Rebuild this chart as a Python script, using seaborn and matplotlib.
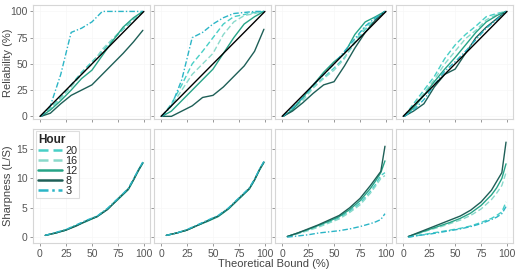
import matplotlib
matplotlib.use('Agg')
from matplotlib import pyplot as plt
import seaborn as sns
import pandas as pd

hours = ['20', '16', '12', '8', '3']
hour_colors = {'20': '#48cfc6', '16': '#8ad9cb', '12': '#26a487', '8': '#1e5f57', '3': '#2bb5c6'}
hour_dashes = {'20': (4, 2), '16': (4, 2), '12': '', '8': '', '3': (4, 1.5, 1, 1.5)}

# theoretical bound (x) grids
x_rel = [1, 10, 20, 30, 40, 50, 60, 70, 80, 90, 99]
x_sharp = [5, 15, 25, 35, 45, 55, 65, 75, 85, 90, 95, 99]
perfect = [0, 100]

# reliability (%) per panel, per hour
rel_1 = {
    '20': [0, 8, 18, 30, 42, 52, 62, 73, 83, 92, 100],
    '16': [0, 7, 17, 28, 40, 50, 64, 74, 84, 93, 100],
    '12': [0, 6, 15, 25, 36, 44, 58, 72, 85, 94, 100],
    '8': [0, 3, 12, 20, 25, 30, 40, 50, 60, 71, 82],
    '3': [0, 10, 40, 80, 84, 90, 100, 100, 100, 100, 100],
}
rel_2 = {
    '20': [0, 12, 30, 50, 62, 75, 88, 95, 97, 99, 100],
    '16': [0, 10, 25, 40, 50, 60, 78, 90, 96, 98, 100],
    '12': [0, 5, 15, 25, 35, 45, 60, 75, 88, 95, 100],
    '8': [0, 0, 5, 10, 18, 20, 28, 38, 48, 62, 83],
    '3': [0, 10, 35, 75, 80, 88, 94, 98, 99, 100, 100],
}
rel_3 = {
    '20': [0, 8, 17, 28, 37, 46, 56, 70, 83, 92, 100],
    '16': [0, 7, 15, 27, 36, 44, 55, 72, 85, 93, 100],
    '12': [0, 6, 18, 30, 42, 52, 60, 78, 90, 95, 100],
    '8': [0, 5, 13, 22, 30, 33, 48, 65, 80, 92, 100],
    '3': [0, 8, 18, 30, 40, 50, 62, 74, 86, 94, 100],
}
rel_4 = {
    '20': [0, 12, 25, 38, 55, 68, 78, 86, 95, 98, 100],
    '16': [0, 10, 22, 35, 50, 62, 74, 82, 92, 97, 100],
    '12': [0, 8, 20, 33, 45, 56, 68, 80, 90, 96, 100],
    '8': [0, 5, 12, 28, 40, 45, 60, 75, 85, 93, 100],
    '3': [0, 6, 16, 30, 43, 52, 62, 73, 84, 92, 100],
}

# sharpness (L/S) per panel, per hour
sharp_1 = {
    '20': [0.3, 0.7, 1.2, 2.0, 2.8, 3.5, 4.8, 6.5, 8.2, 9.8, 11.5, 12.7],
    '16': [0.3, 0.7, 1.3, 2.0, 2.8, 3.6, 4.9, 6.6, 8.3, 9.9, 11.6, 12.8],
    '12': [0.3, 0.7, 1.2, 2.0, 2.7, 3.5, 4.8, 6.4, 8.1, 9.7, 11.4, 12.6],
    '8': [0.3, 0.7, 1.2, 1.9, 2.8, 3.5, 4.7, 6.5, 8.2, 9.8, 11.5, 12.7],
    '3': [0.3, 0.8, 1.3, 2.1, 2.9, 3.6, 4.9, 6.6, 8.3, 9.9, 11.6, 12.8],
}
sharp_2 = {
    '20': [0.3, 0.7, 1.2, 2.0, 2.8, 3.6, 4.9, 6.6, 8.3, 9.8, 11.6, 12.8],
    '16': [0.3, 0.7, 1.2, 2.0, 2.8, 3.6, 4.9, 6.6, 8.3, 9.8, 11.6, 12.8],
    '12': [0.3, 0.7, 1.2, 2.0, 2.7, 3.5, 4.8, 6.5, 8.2, 9.7, 11.5, 12.7],
    '8': [0.3, 0.7, 1.2, 2.0, 2.8, 3.6, 4.9, 6.6, 8.3, 9.8, 11.6, 12.8],
    '3': [0.3, 0.7, 1.3, 2.1, 2.9, 3.7, 5.0, 6.7, 8.4, 9.9, 11.7, 12.9],
}
sharp_3 = {
    '20': [0.1, 0.6, 1.2, 1.8, 2.5, 3.3, 4.4, 5.8, 7.8, 9.0, 10.5, 11.0],
    '16': [0.1, 0.6, 1.1, 1.7, 2.4, 3.1, 4.2, 5.5, 7.5, 8.7, 10.0, 10.5],
    '12': [0.1, 0.7, 1.3, 2.0, 2.7, 3.5, 4.7, 6.2, 8.3, 9.6, 11.0, 13.0],
    '8': [0.1, 0.7, 1.4, 2.1, 2.9, 3.7, 5.0, 6.6, 8.8, 10.0, 11.2, 15.5],
    '3': [0.0, 0.2, 0.4, 0.7, 0.9, 1.1, 1.4, 1.8, 2.3, 2.6, 3.0, 4.0],
}
sharp_4 = {
    '20': [0.0, 0.3, 0.6, 0.9, 1.2, 1.5, 1.9, 2.5, 3.2, 3.7, 4.3, 6.0],
    '16': [0.1, 0.6, 1.2, 1.7, 2.3, 2.9, 3.7, 4.8, 6.4, 7.5, 8.8, 11.0],
    '12': [0.1, 0.7, 1.3, 1.9, 2.5, 3.2, 4.1, 5.4, 7.2, 8.4, 10.0, 12.5],
    '8': [0.1, 0.8, 1.5, 2.2, 2.9, 3.6, 4.6, 6.0, 8.0, 9.5, 11.0, 16.2],
    '3': [0.0, 0.3, 0.5, 0.8, 1.1, 1.4, 1.8, 2.3, 3.0, 3.4, 4.0, 5.2],
}


def to_frame(x, panel):
    rows = []
    for h in hours:
        for xi, yi in zip(x, panel[h]):
            rows.append({'bound': xi, 'value': yi, 'Hour': h})
    return pd.DataFrame(rows)


sns.set_theme(style='white')
plt.rcParams['font.family'] = ['Liberation Sans', 'DejaVu Sans']

fig, axes = plt.subplots(2, 4, figsize=(5.19, 2.70), dpi=100)
fig.subplots_adjust(left=0.064, right=0.988, top=0.981, bottom=0.10, wspace=0.04, hspace=0.08)

edge = '#d6d6d6'
tick_col = '#555555'
text_col = '#444444'

for i, panel in enumerate([rel_1, rel_2, rel_3, rel_4]):
    ax = axes[0, i]
    sns.lineplot(data=to_frame(x_rel, panel), x='bound', y='value', hue='Hour', style='Hour',
                 hue_order=hours, style_order=hours, palette=hour_colors, dashes=hour_dashes,
                 linewidth=1.0, legend=False, ax=ax)
    ax.plot(perfect, perfect, color='black', linewidth=1.0)
    ax.set_ylim(-3, 106)
    ax.set_yticks([0, 25, 50, 75, 100])

for i, panel in enumerate([sharp_1, sharp_2, sharp_3, sharp_4]):
    ax = axes[1, i]
    sns.lineplot(data=to_frame(x_sharp, panel), x='bound', y='value', hue='Hour', style='Hour',
                 hue_order=hours, style_order=hours, palette=hour_colors, dashes=hour_dashes,
                 linewidth=1.0, legend=(i == 0), ax=ax)
    ax.set_ylim(-1, 18.5)
    ax.set_yticks([0, 5, 10, 15])

for ax in axes.flat:
    ax.set_xlim(-6.5, 105.5)
    ax.set_xticks([0, 25, 50, 75, 100])
    ax.set_xlabel('')
    ax.set_ylabel('')
    ax.grid(True, color='#f7f7f7', linewidth=0.5)
    ax.set_axisbelow(True)
    for s in ax.spines.values():
        s.set_color(edge)
        s.set_linewidth(0.8)
    ax.tick_params(axis='both', length=2.5, width=0.6, color='#888888', labelsize=7.5,
                   labelcolor=tick_col, pad=1.5, direction='out', bottom=True, left=True)

for ax in axes[0, :]:
    ax.tick_params(labelbottom=False)
for ax in axes[:, 1:].flat:
    ax.tick_params(labelleft=False)

top_box = axes[0, 0].get_position()
bot_box = axes[1, 0].get_position()
fig.text(0.016, (top_box.y0 + top_box.y1) / 2, 'Reliability (%)', rotation=90, ha='center', va='center',
         fontsize=8, color=text_col)
fig.text(0.016, (bot_box.y0 + bot_box.y1) / 2, 'Sharpness (L/S)', rotation=90, ha='center', va='center',
         fontsize=8, color=text_col)
fig.text(0.527, 0.022, 'Theoretical Bound (%)', ha='center', va='center', fontsize=8, color=text_col)

ax = axes[1, 0]
handles, labels = ax.get_legend_handles_labels()
for h in handles:
    h.set_linewidth(1.8)
leg = ax.legend(handles, labels, title='Hour', loc='upper left', fontsize=7.8, title_fontsize=8.5,
                frameon=True, fancybox=False, edgecolor=edge, borderpad=0.2, labelspacing=0.0,
                handlelength=2.2, handletextpad=0.3, borderaxespad=0.25, alignment='left')
leg.get_title().set_fontweight('bold')
leg.get_frame().set_linewidth(0.8)

fig.savefig('out.png', dpi=100)
